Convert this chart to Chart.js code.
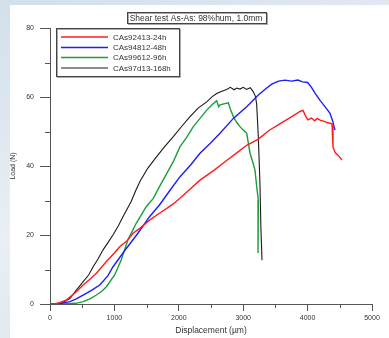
<!DOCTYPE html>
<html>
<head>
<meta charset="utf-8">
<script src="https://cdn.jsdelivr.net/npm/chart.js@4"></script>
<style>
  html, body { margin: 0; padding: 0; }
  body {
    width: 389px; height: 338px; overflow: hidden; position: relative;
    background: linear-gradient(160deg, #d3dfea 0%, #e9eff5 50%, #d6e1ec 100%);
  }
  #panel { position: absolute; left: 10px; top: 5px; right: 0; bottom: 0; background: #fff; }
  #chart { position: absolute; left: 0; top: 0; }
</style>
</head>
<body>
<div id="panel"></div>
<canvas id="chart" width="389" height="338"></canvas>
<script>
// === data ===
const chartTitle = "Shear test As-As: 98%hum, 1.0mm";
const seriesNames = ["CAs92413-24h", "CAs94812-48h", "CAs99612-96h", "CAs97d13-168h"];
const seriesColors = ["#ff1c1c", "#1c1cff", "#1a9e3a", "#1a1a1a"];

const redDisp = [0, 60, 150, 258, 400, 515, 620, 721, 876, 1000, 1082, 1200, 1288, 1400, 1545, 1700, 1915, 2100, 2329, 2550, 2743, 2900, 3054, 3235, 3400, 3600, 3780, 3882, 3930, 3965, 4006, 4060, 4110, 4150, 4200, 4250, 4300, 4379, 4394, 4430, 4480, 4534];
const redLoad = [0, 0, 0.4, 1.2, 3.4, 5.5, 7.2, 8.9, 12.3, 14.8, 16.6, 18.4, 20.5, 22.0, 24.3, 26.3, 29.0, 32.0, 35.9, 38.8, 41.6, 43.8, 46.0, 47.8, 50.3, 52.6, 54.6, 55.8, 56.1, 54.6, 53.4, 53.9, 53.1, 53.8, 53.2, 53.0, 52.6, 52.2, 45.5, 43.8, 43.0, 41.7];

const blueDisp = [0, 150, 309, 400, 515, 650, 773, 900, 979, 1080, 1185, 1365, 1545, 1700, 1850, 2019, 2180, 2329, 2490, 2640, 2847, 3054, 3235, 3350, 3450, 3550, 3650, 3750, 3850, 3920, 4000, 4060, 4120, 4193, 4270, 4348, 4390, 4425];
const blueLoad = [0, 0.1, 0.7, 1.4, 2.6, 4.0, 5.5, 8.2, 10.8, 13.4, 16.1, 20.5, 25.3, 28.7, 32.6, 36.9, 40.2, 43.7, 46.6, 49.5, 53.8, 57.2, 60.6, 62.4, 63.8, 64.6, 64.9, 64.6, 64.9, 64.4, 64.2, 62.8, 61.0, 59.0, 57.2, 55.3, 53.0, 50.4];

const greenDisp = [0, 200, 400, 515, 620, 721, 800, 876, 1004, 1107, 1210, 1339, 1494, 1604, 1700, 1812, 1920, 2019, 2120, 2225, 2330, 2433, 2520, 2588, 2620, 2640, 2700, 2769, 2800, 2847, 2900, 2950, 3000, 3054, 3106, 3150, 3183, 3210, 3235, 3230];
const greenLoad = [0, 0, 0.2, 0.7, 1.5, 2.6, 3.6, 5.0, 8.4, 12.8, 18.6, 23.4, 28.2, 30.6, 34.0, 37.8, 41.5, 45.6, 48.2, 51.4, 53.8, 56.2, 57.8, 58.9, 57.2, 57.7, 58.0, 58.3, 56.5, 54.3, 52.6, 51.4, 50.4, 49.5, 43.7, 41.0, 38.8, 34.0, 30.1, 14.8];

const blackDisp = [0, 150, 309, 400, 515, 600, 670, 750, 824, 900, 977, 1060, 1133, 1200, 1262, 1330, 1398, 1520, 1656, 1780, 1915, 2050, 2174, 2300, 2433, 2520, 2588, 2660, 2743, 2800, 2860, 2899, 2950, 3000, 3054, 3110, 3157, 3190, 3209, 3235, 3260, 3275, 3292];
const blackLoad = [0, 0, 1.6, 3.8, 6.5, 8.4, 10.8, 13.2, 15.7, 17.8, 20.0, 22.6, 25.3, 27.6, 29.8, 32.8, 35.6, 39.4, 42.7, 45.6, 48.5, 51.6, 54.3, 56.8, 58.6, 60.1, 61.0, 61.6, 62.2, 62.8, 62.1, 62.6, 62.3, 62.8, 62.2, 62.7, 61.5, 60.2, 58.0, 48.3, 35.0, 22.0, 12.7];

const xMin = 0, xMax = 5000, xStep = 500, xLabelEvery = 1000;
const yMin = 0, yMax = 80, yStep = 10, yLabelEvery = 20;
const xTitle = "Displacement (µm)";
const yTitle = "Load (N)";

const allDisp = [redDisp, blueDisp, greenDisp, blackDisp];
const allLoad = [redLoad, blueLoad, greenLoad, blackLoad];

const FONT = "'Liberation Sans', Arial, sans-serif";
const AXIS_COLOR = "#555";
const TEXT_COLOR = "#333";

const datasets = seriesNames.map((name, i) => ({
    label: name,
    data: allDisp[i].map((x, j) => ({ x: x, y: allLoad[i][j] })),
    showLine: true,
    borderColor: seriesColors[i],
    backgroundColor: seriesColors[i],
    borderWidth: i === 3 ? 1.1 : 1.4,
    pointRadius: 0,
    tension: 0
}));

// minor ticks are shorter than major ones, drawn here from the scales
const minorTicks = {
    id: "minorTicks",
    afterDraw(chart) {
        const ctx = chart.ctx;
        const xs = chart.scales.x, ys = chart.scales.y;
        ctx.save();
        ctx.strokeStyle = AXIS_COLOR;
        ctx.lineWidth = 1;
        ctx.beginPath();
        for (let v = yMin; v <= yMax; v += yStep) {
            if (v % yLabelEvery === 0) continue;
            const py = Math.round(ys.getPixelForValue(v)) + 0.5;
            ctx.moveTo(ys.right - 5, py);
            ctx.lineTo(ys.right, py);
        }
        for (let v = xMin; v <= xMax; v += xStep) {
            if (v % xLabelEvery === 0) continue;
            const px = Math.round(xs.getPixelForValue(v)) + 0.5;
            ctx.moveTo(px, xs.top);
            ctx.lineTo(px, xs.top + 4);
        }
        ctx.stroke();
        ctx.restore();
    }
};

// boxed title and boxed legend as in the original plot
const boxes = {
    id: "boxes",
    afterDraw(chart) {
        const ctx = chart.ctx;
        ctx.save();

        // title box
        ctx.font = "8.5px " + FONT;
        const tw = ctx.measureText(chartTitle).width;
        const cx = 196;
        const bx = Math.round(cx - tw / 2 - 3) + 0.5;
        const bw = Math.round(tw + 6);
        ctx.fillStyle = "#fff";
        ctx.fillRect(bx, 12.5, bw, 11);
        ctx.strokeStyle = "#aaa";
        ctx.strokeRect(bx + 1, 13.5, bw, 11);
        ctx.strokeStyle = "#444";
        ctx.strokeRect(bx, 12.5, bw, 11);
        ctx.fillStyle = TEXT_COLOR;
        ctx.textAlign = "center";
        ctx.textBaseline = "middle";
        ctx.fillText(chartTitle, cx, 18.5);

        // legend box
        ctx.fillStyle = "#fff";
        ctx.fillRect(56.5, 28.5, 123, 48);
        ctx.strokeStyle = "#aaa";
        ctx.strokeRect(57.5, 29.5, 123, 48);
        ctx.strokeStyle = "#444";
        ctx.strokeRect(56.5, 28.5, 123, 48);

        const rowY = [37, 47.5, 57.5, 68];
        ctx.font = "8px " + FONT;
        ctx.textAlign = "left";
        chart.data.datasets.forEach((ds, i) => {
            ctx.strokeStyle = ds.borderColor;
            ctx.lineWidth = i === 3 ? 1.1 : 1.6;
            ctx.beginPath();
            ctx.moveTo(61, rowY[i]);
            ctx.lineTo(108, rowY[i]);
            ctx.stroke();
            ctx.fillStyle = TEXT_COLOR;
            ctx.fillText(ds.label, 113, rowY[i] + 0.5);
        });
        ctx.restore();
    }
};

const ctx = document.getElementById("chart").getContext("2d");

new Chart(ctx, {
    type: "scatter",
    data: { datasets: datasets },
    options: {
        responsive: false,
        animation: false,
        layout: { padding: { top: 28, right: 17, left: 0, bottom: 0 } },
        plugins: {
            legend: { display: false },
            title: { display: false },
            tooltip: { enabled: false }
        },
        scales: {
            x: {
                type: "linear",
                min: xMin,
                max: xMax,
                afterFit: s => { s.height = 34; },
                border: { display: true, color: AXIS_COLOR, width: 1 },
                grid: {
                    drawOnChartArea: false,
                    drawTicks: true,
                    tickLength: 7,
                    tickColor: c => (c.tick && c.tick.value % xLabelEvery === 0) ? AXIS_COLOR : "rgba(0,0,0,0)"
                },
                ticks: {
                    stepSize: xStep,
                    autoSkip: false,
                    maxRotation: 0,
                    padding: 3,
                    color: TEXT_COLOR,
                    font: { family: FONT, size: 7 },
                    callback: v => (v % xLabelEvery === 0 ? String(v) : "")
                },
                title: {
                    display: true,
                    text: xTitle,
                    color: TEXT_COLOR,
                    font: { family: FONT, size: 8.5 },
                    padding: { top: 0, bottom: 2 }
                }
            },
            y: {
                type: "linear",
                min: yMin,
                max: yMax,
                afterFit: s => { s.width = 50; },
                border: { display: true, color: AXIS_COLOR, width: 1 },
                grid: {
                    drawOnChartArea: false,
                    drawTicks: true,
                    tickLength: 10,
                    tickColor: c => (c.tick && c.tick.value % yLabelEvery === 0) ? AXIS_COLOR : "rgba(0,0,0,0)"
                },
                ticks: {
                    stepSize: yStep,
                    autoSkip: false,
                    padding: 6,
                    color: TEXT_COLOR,
                    font: { family: FONT, size: 7 },
                    callback: v => (v % yLabelEvery === 0 ? String(v) : "")
                },
                title: {
                    display: true,
                    text: yTitle,
                    color: TEXT_COLOR,
                    font: { family: FONT, size: 7 },
                    padding: { top: 9, bottom: 0 }
                }
            }
        }
    },
    plugins: [minorTicks, boxes]
});
</script>
</body>
</html>
